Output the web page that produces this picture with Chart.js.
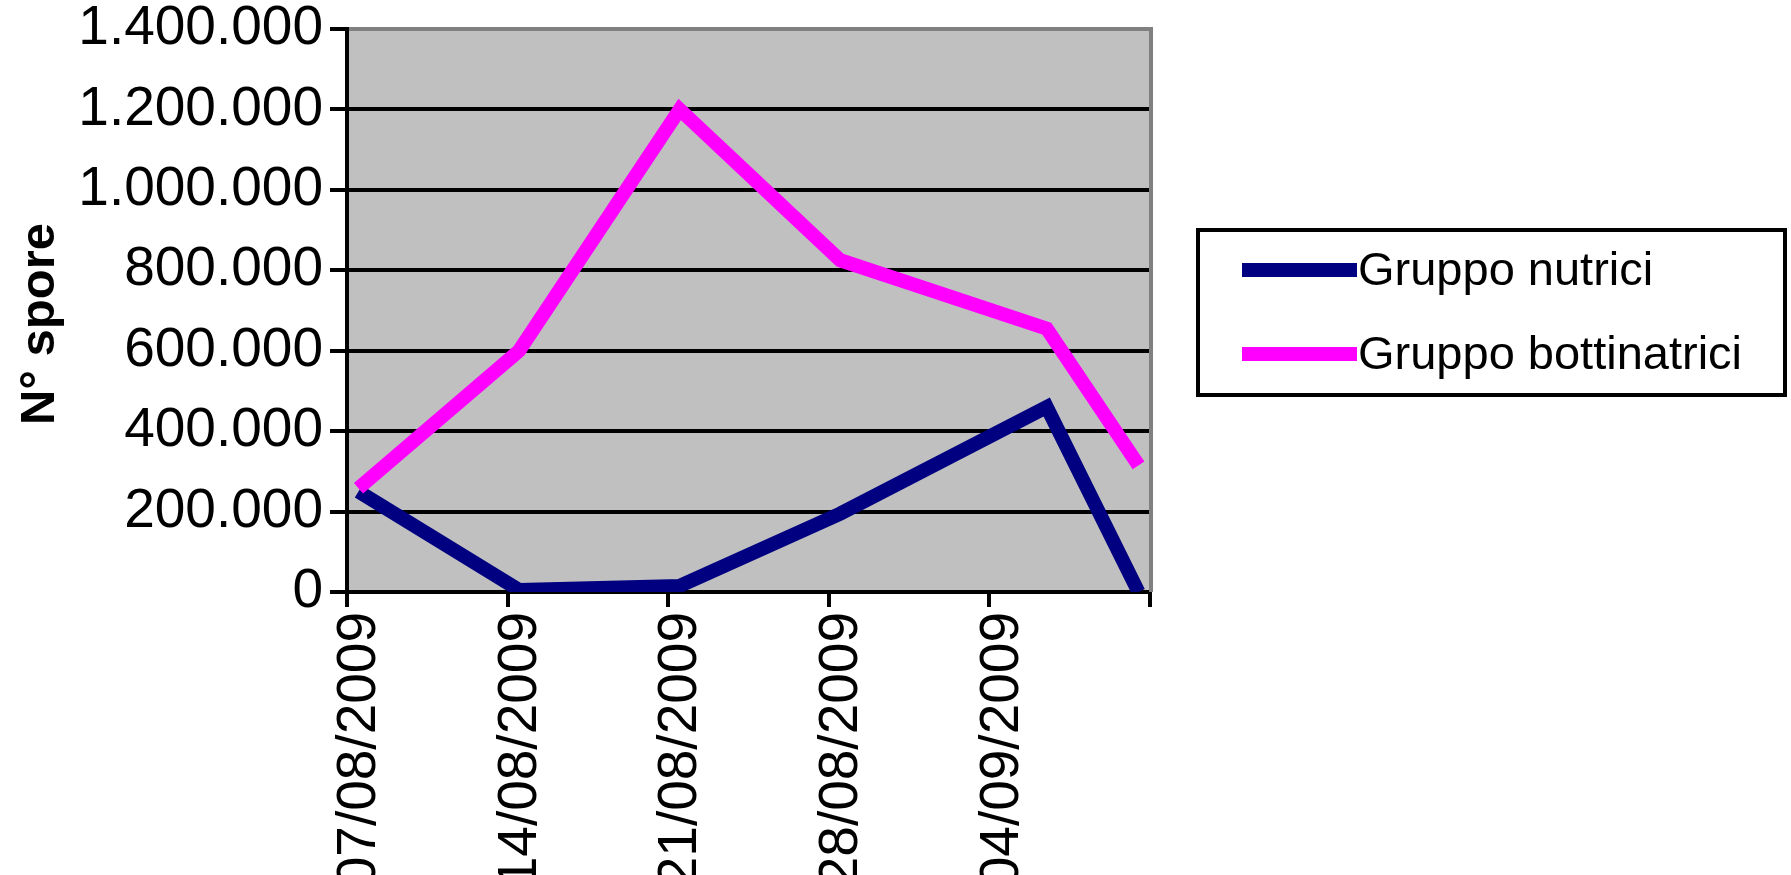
<!DOCTYPE html>
<html>
<head>
<meta charset="utf-8">
<script src="https://cdn.jsdelivr.net/npm/chart.js@4.4.1/dist/chart.umd.min.js"></script>
<style>
  html, body { margin: 0; padding: 0; background: #ffffff; }
  #wrap { width: 1791px; height: 875px; position: relative; }
  canvas { display: block; }
</style>
</head>
<body>
<div id="wrap"><canvas id="c" width="1791" height="875"></canvas></div>
<script>
// Sampling dates and spore counts per group
const sampleDates = ["07/08/2009", "14/08/2009", "21/08/2009", "28/08/2009", "06/09/2009", "10/09/2009"];
const nutrici = [250000, 5000, 15000, 195000, 460000, 0];
const bottinatrici = [258000, 600000, 1200000, 825000, 655000, 315000];
const seriesNames = ["Gruppo nutrici", "Gruppo bottinatrici"];
const seriesColors = ["#000080", "#FF00FF"];
const xTickLabels = ["07/08/2009", "14/08/2009", "21/08/2009", "28/08/2009", "04/09/2009", ""];
const yAxisTitle = "N° spore";

const FONT = "'Liberation Sans', Arial, sans-serif";

function dayNumber(s) {
  const [d, m, y] = s.split('/').map(Number);
  return Date.UTC(y, m - 1, d) / 86400000;
}
const day0 = dayNumber(sampleDates[0]);
const dayIdx = sampleDates.map(s => dayNumber(s) - day0);
// date axis: each sample sits in the middle of its one-day slot
const xs = dayIdx.map(d => d + 0.5);
const axisEnd = dayIdx[dayIdx.length - 1] + 1;

function thousands(v) {
  return String(v).replace(/\B(?=(\d{3})+(?!\d))/g, '.');
}

const plotFrame = {
  id: 'plotFrame',
  beforeDraw(chart) {
    const { ctx, chartArea: a } = chart;
    ctx.save();
    ctx.fillStyle = '#C0C0C0';
    ctx.fillRect(a.left, a.top, a.right - a.left, a.bottom - a.top);
    ctx.restore();
  },
  beforeDatasetsDraw(chart) {
    const { ctx, chartArea: a } = chart;
    ctx.save();
    ctx.strokeStyle = '#808080';
    ctx.lineWidth = 4;
    ctx.beginPath();
    ctx.moveTo(a.right + 1, a.top - 2);
    ctx.lineTo(a.right + 1, a.bottom);
    ctx.stroke();
    ctx.restore();
  },
  afterDraw(chart) {
    const { ctx } = chart;
    ctx.save();
    // y axis title
    ctx.translate(54, 324);
    ctx.rotate(-Math.PI / 2);
    ctx.font = "bold 49px " + FONT;
    ctx.fillStyle = '#000';
    ctx.textAlign = 'center';
    ctx.textBaseline = 'alphabetic';
    ctx.fillText(yAxisTitle, 0, 0);
    ctx.restore();

    // legend
    ctx.save();
    ctx.lineWidth = 4;
    ctx.strokeStyle = '#000';
    ctx.strokeRect(1198, 230, 587, 165);
    chart.data.datasets.forEach((ds, i) => {
      const y = 270 + i * 84;
      ctx.strokeStyle = ds.borderColor;
      ctx.lineWidth = 14;
      ctx.lineCap = 'butt';
      ctx.beginPath();
      ctx.moveTo(1242, y);
      ctx.lineTo(1357, y);
      ctx.stroke();
      ctx.fillStyle = '#000';
      ctx.font = "47px " + FONT;
      ctx.textAlign = 'left';
      ctx.textBaseline = 'middle';
      ctx.fillText(ds.label, 1358, y + 2);
    });
    ctx.restore();
  }
};

const makeSeries = (vals, i, order) => ({
  label: seriesNames[i],
  data: xs.map((x, k) => ({ x: x, y: vals[k] })),
  borderColor: seriesColors[i],
  backgroundColor: seriesColors[i],
  borderWidth: 14,
  borderJoinStyle: 'miter',
  borderCapStyle: 'butt',
  pointRadius: 0,
  tension: 0,
  fill: false,
  order: order
});

new Chart(document.getElementById('c'), {
  type: 'line',
  data: {
    datasets: [
      makeSeries(nutrici, 0, 2),
      makeSeries(bottinatrici, 1, 1)
    ]
  },
  options: {
    responsive: false,
    animation: false,
    devicePixelRatio: 1,
    layout: { padding: { top: 29, right: 641, left: 0, bottom: 0 } },
    plugins: { legend: { display: false }, tooltip: { enabled: false } },
    scales: {
      x: {
        type: 'linear',
        min: 0,
        max: axisEnd,
        afterFit(s) { s.height = 283; s.paddingLeft = 0; s.paddingRight = 0; },
        afterBuildTicks(s) {
          s.ticks = [];
          for (let v = 0; v <= axisEnd; v += 7) s.ticks.push({ value: v });
        },
        ticks: {
          autoSkip: false,
          minRotation: 90,
          maxRotation: 90,
          padding: 5,
          labelOffset: 13,
          color: '#000',
          font: { family: FONT, size: 55 },
          callback: (v, i) => xTickLabels[i] ?? ''
        },
        grid: {
          drawOnChartArea: false,
          color: '#000',
          lineWidth: 4,
          tickLength: 15,
          tickWidth: 4,
          tickColor: '#000'
        },
        border: { color: '#000', width: 4 }
      },
      y: {
        min: 0,
        max: 1400000,
        afterFit(s) { s.width = 347; s.paddingTop = 0; s.paddingBottom = 0; },
        ticks: {
          stepSize: 200000,
          padding: 7,
          color: '#000',
          font: { family: FONT, size: 55, lineHeight: 1 },
          callback: v => thousands(v)
        },
        grid: {
          color: c => (c.tick && c.tick.value === 1400000) ? '#808080' : '#000',
          lineWidth: 4,
          tickLength: 17,
          tickWidth: 4,
          tickColor: '#000'
        },
        border: { color: '#000', width: 4 }
      }
    }
  },
  plugins: [plotFrame]
});
</script>
</body>
</html>
